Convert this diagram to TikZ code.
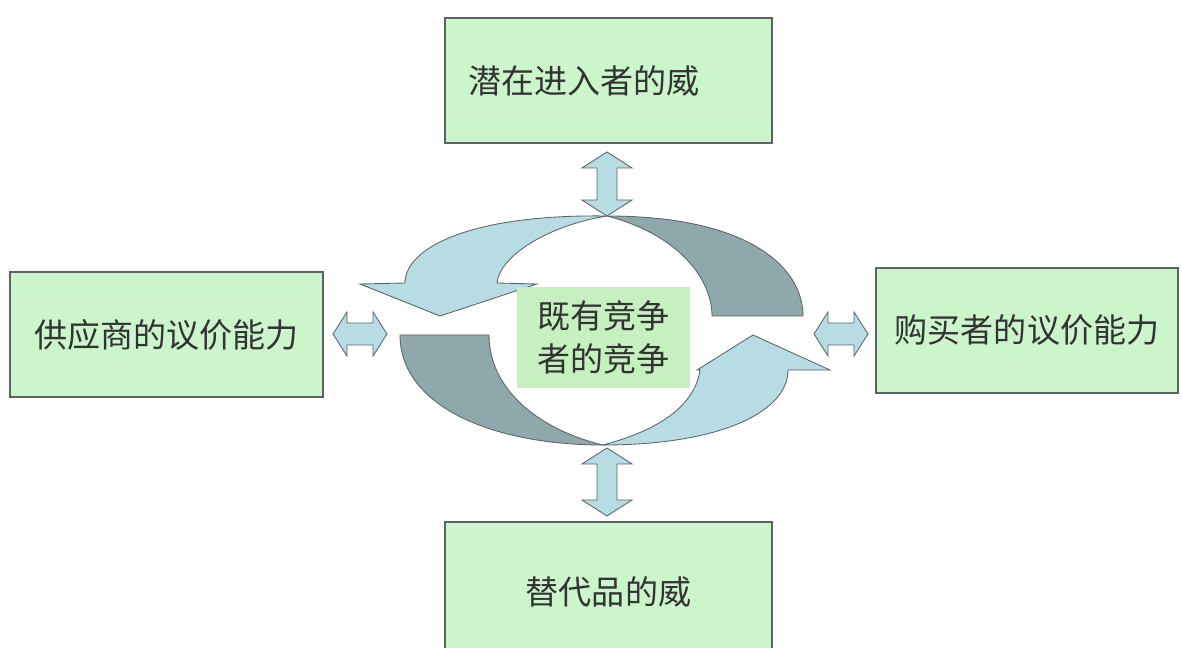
\documentclass[tikz,border=0pt]{standalone}
\usepackage{fontspec}
\setmainfont{Noto Sans CJK SC}
\usetikzlibrary{calc}

\definecolor{boxgreen}{HTML}{CCF5CC}
\definecolor{midgreen}{HTML}{C6F0C0}
\definecolor{lightblue}{HTML}{B7DCE4}
\definecolor{darkteal}{HTML}{8FA8AC}
\definecolor{edgegray}{HTML}{5A6466}

\tikzset{
  force/.style={draw=edgegray, fill=boxgreen, line width=0.8pt, font=\fontsize{23.5}{28}\selectfont, text=black!80},
  flow/.style={draw=edgegray, line width=0.6pt},
}

% vertical and horizontal double arrows: centre, half length
\newcommand{\vdarrow}[3]{\draw[flow, fill=lightblue] ($(#1,#2)+(-10,-#3+16)$) -- ++(-15,0) -- ++(25,-16) -- ++(25,16) -- ++(-15,0) -- ++(0,2*#3-32) -- ++(15,0) -- ++(-25,16) -- ++(-25,-16) -- ++(15,0) -- cycle;}
\newcommand{\hdarrow}[3]{\draw[flow, fill=lightblue] ($(#1,#2)+(-#3+14,-11)$) -- ++(0,-11) -- ++(-14,22) -- ++(14,22) -- ++(0,-11) -- ++(2*#3-28,0) -- ++(0,11) -- ++(14,-22) -- ++(-14,-22) -- ++(0,11) -- cycle;}

\begin{document}
\begin{tikzpicture}[x=0.025cm, y=-0.025cm]
\useasboundingbox (0,0) rectangle (1182,648);
\fill[white] (0,0) rectangle (1182,648);

% the four outer forces
\node[force, minimum width=327*0.025cm, minimum height=125*0.025cm, text width=280*0.025cm] (entrant) at (608.5,80.5) {潜在进入者的威};
\node[force, minimum width=313*0.025cm, minimum height=125*0.025cm] (supplier) at (166.5,334.5) {供应商的议价能力};
\node[force, minimum width=302*0.025cm, minimum height=125*0.025cm] (buyer) at (1027,330.5) {购买者的议价能力};
\node[force, minimum width=327*0.025cm, minimum height=140*0.025cm] (substitute) at (608.5,592) {替代品的威};

% circular arrows
\draw[flow, fill=lightblue] (607,216) .. controls (470,214) and (405,248) .. (405,283) -- (360,284) -- (440,316) -- (537,284) -- (497,283) .. controls (500,255) and (550,225) .. (607,216) -- cycle;
\draw[flow, fill=darkteal] (607,216) .. controls (750,216) and (803,268) .. (803,316) -- (712,316) .. controls (712,280) and (680,235) .. (607,216) -- cycle;
\draw[flow, fill=darkteal] (400,335) .. controls (400,405) and (490,445) .. (603,445) .. controls (540,430) and (489,390) .. (489,335) -- cycle;
\draw[flow, fill=lightblue] (603,445) .. controls (720,445) and (788,412) .. (788,370) -- (830,370) -- (753,335) -- (697,370) -- (700,370) .. controls (695,405) and (660,430) .. (603,445) -- cycle;

\node[fill=midgreen, minimum width=173*0.025cm, minimum height=101*0.025cm, align=center, font=\fontsize{23.5}{31}\selectfont, text=black!80] (rivalry) at (603.5,337.5) {既有竞争\\者的竞争};

% double arrows
\vdarrow{607}{184}{32}
\vdarrow{607}{482}{34}
\hdarrow{360}{334}{27}
\hdarrow{841}{334}{27}
\end{tikzpicture}
\end{document}
